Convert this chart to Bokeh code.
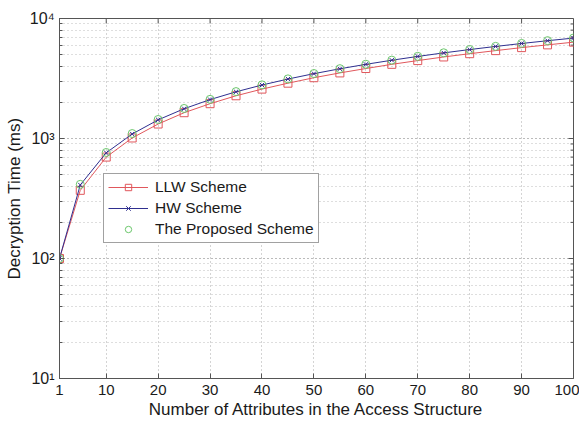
from bokeh.plotting import figure
from bokeh.models import FixedTicker, Legend, LegendItem, LogTicker, Range1d
from bokeh.embed import file_html
from bokeh.resources import INLINE

# ---- data ----
attrs = [1, 5, 10, 15, 20, 25, 30, 35, 40, 45, 50, 55, 60, 65, 70, 75, 80, 85, 90, 95, 100]
llw = [100, 370, 700, 1010, 1320, 1640, 1950, 2270, 2580, 2890, 3210, 3520, 3830,
       4150, 4460, 4780, 5090, 5400, 5720, 6030, 6350]
hw = [100, 410, 760, 1090, 1430, 1770, 2110, 2450, 2790, 3130, 3470, 3810, 4150,
      4490, 4830, 5170, 5510, 5850, 6190, 6530, 6870]
proposed = [100, 415, 765, 1100, 1440, 1780, 2120, 2460, 2800, 3140, 3480, 3820, 4160,
            4500, 4840, 5180, 5520, 5860, 6200, 6540, 6880]
x_ticks = [1, 10, 20, 30, 40, 50, 60, 70, 80, 90, 100]
y_ticks = [10, 100, 1000, 10000]
y_labels = {10: "10\u00b9", 100: "10\u00b2", 1000: "10\u00b3", 10000: "10\u2074"}

X0, X1 = 1, 100
Y0, Y1 = 10, 10000
FW, FH = 514, 360

FONT = "Liberation Sans"
TXT = "#1a1a1a"
AX = "#555555"

p = figure(frame_width=FW, frame_height=FH, y_axis_type="log",
           x_range=Range1d(X0, X1), y_range=Range1d(Y0, Y1),
           output_backend="svg", toolbar_location=None,
           min_border_left=59, min_border_right=6, min_border_top=18, min_border_bottom=40)
p.background_fill_color = "white"
p.border_fill_color = "white"
p.outline_line_color = AX
p.outline_line_width = 1

xa = p.xaxis[0]
xa.ticker = FixedTicker(ticks=x_ticks)
xa.axis_label = "Number of Attributes in the Access Structure"
ya = p.yaxis[0]
ya.ticker = LogTicker(num_minor_ticks=10)
ya.major_label_overrides = y_labels
ya.axis_label = "Decryption Time (ms)"
for ax in (xa, ya):
    ax.axis_line_color = AX
    ax.major_tick_in = 5
    ax.major_tick_out = 0
    ax.minor_tick_in = 3
    ax.minor_tick_out = 0
    ax.major_tick_line_color = AX
    ax.minor_tick_line_color = AX
    ax.major_label_text_font = FONT
    ax.major_label_text_color = TXT
    ax.axis_label_text_font = FONT
    ax.axis_label_text_font_size = "17px"
    ax.axis_label_text_font_style = "normal"
    ax.axis_label_text_color = TXT
xa.major_label_text_font_size = "15px"
ya.major_label_text_font_size = "16px"
xa.major_label_standoff = 6
xa.axis_label_standoff = 2
ya.major_label_standoff = 5
ya.axis_label_standoff = 3

# ticks on the opposite (top / right) sides, derived from the tick arrays
top_len = 10 ** (3 * 5 / FH)
p.segment(x0=x_ticks, y0=[Y1] * len(x_ticks), x1=x_ticks, y1=[Y1 / top_len] * len(x_ticks),
          line_color=AX, line_width=1)
minor_y = [m * d for d in (10, 100, 1000) for m in range(2, 10)]
dx5 = (X1 - X0) * 5 / FW
dx3 = (X1 - X0) * 3 / FW
p.segment(x0=[X1] * len(y_ticks), y0=y_ticks, x1=[X1 - dx5] * len(y_ticks), y1=y_ticks,
          line_color=AX, line_width=1)
p.segment(x0=[X1] * len(minor_y), y0=minor_y, x1=[X1 - dx3] * len(minor_y), y1=minor_y,
          line_color=AX, line_width=1)

# grids
p.xgrid.grid_line_color = "#a8a8a8"
p.xgrid.grid_line_dash = "1 3"
p.ygrid.grid_line_color = "#a8a8a8"
p.ygrid.grid_line_dash = "1 3"
p.ygrid.minor_grid_line_color = "#bcbcbc"
p.ygrid.minor_grid_line_dash = "1 3"

RED = "#e0575c"
BLUE = "#2f2f8f"
GREEN = "#6cc76c"

l1 = p.line(attrs, llw, line_color=RED, line_width=1)
m1 = p.scatter(attrs, llw, marker="square", size=8, line_color=RED, fill_color=None)
l2 = p.line(attrs, hw, line_color=BLUE, line_width=1)
m2 = p.scatter(attrs, hw, marker="x", size=6, line_color=BLUE)
m3 = p.scatter(attrs, proposed, marker="circle", size=8, line_color=GREEN, fill_color=None)

legend = Legend(items=[
    LegendItem(label="LLW Scheme", renderers=[l1, m1]),
    LegendItem(label="HW Scheme", renderers=[l2, m2]),
    LegendItem(label="The Proposed Scheme", renderers=[m3]),
], location=(44, 135))
legend.label_text_font = FONT
legend.label_text_font_size = "15.5px"
legend.label_text_color = TXT
legend.border_line_color = "#444444"
legend.border_line_width = 1
legend.glyph_width = 40
legend.glyph_height = 16
legend.label_height = 16
legend.spacing = 3
legend.padding = 4
legend.margin = 0
legend.label_standoff = 7
legend.background_fill_alpha = 1
p.add_layout(legend, "center")

open("out.html", "w").write(file_html(p, INLINE))
